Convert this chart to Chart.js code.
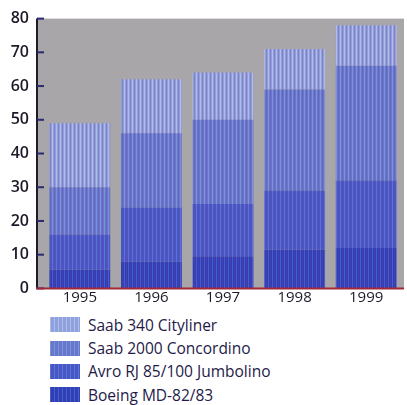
<!DOCTYPE html>
<html>
<head>
    <title>Fleet</title>
    <script src="https://cdn.jsdelivr.net/npm/chart.js@4.4.1/dist/chart.umd.min.js"></script>
    <style>
        body {
            margin: 0;
            padding: 0;
            background-color: #ffffff;
            font-family: "Open Sans", sans-serif;
        }
        #wrap {
            position: relative;
            width: 407px;
            height: 405px;
            overflow: hidden;
        }
        #chartBox {
            position: absolute;
            left: 0;
            top: -6px;
            width: 407px;
            height: 319px;
        }
        #legend {
            position: absolute;
            left: 50px;
            top: 313px;
        }
        .row {
            display: flex;
            align-items: center;
            height: 23.4px;
        }
        .swatch {
            width: 30px;
            height: 15px;
            margin-right: 8px;
        }
        .row span {
            font-size: 15.5px;
            color: #241a48;
        }
    </style>
</head>
<body>
<div id="wrap">
    <div id="chartBox"><canvas id="barChart"></canvas></div>
    <div id="legend"></div>
</div>

<script>
    // values (stack pieces, bottom to top)
    const years = ['1995', '1996', '1997', '1998', '1999'];
    const boeing = [5.5, 8, 9.5, 11.5, 12];
    const avro = [10.5, 16, 15.5, 17.5, 20];
    const saab2000 = [14, 22, 25, 30, 34];
    const saab340 = [19, 16, 14, 12, 12];
    const seriesNames = ['Boeing MD-82/83', 'Avro RJ 85/100 Jumbolino', 'Saab 2000 Concordino', 'Saab 340 Cityliner'];
    const seriesColors = ['#2f40b2', '#4658c4', '#6478cc', '#8fa1dc'];
    const stripeColors = ['#4a5ad0', '#6070d8', '#8090d8', '#b0bce8'];
    const yMax = 80;
    const yStep = 10;

    // vertical stripes like the printed screen
    function stripes(base, light) {
        const c = document.createElement('canvas');
        c.width = 4; c.height = 4;
        const g = c.getContext('2d');
        g.fillStyle = base;
        g.fillRect(0, 0, 4, 4);
        g.fillStyle = light;
        g.fillRect(0, 0, 1, 4);
        g.fillStyle = 'rgba(120,60,160,0.35)';
        g.fillRect(2, 0, 1, 4);
        return g.createPattern(c, 'repeat');
    }

    const allValues = [boeing, avro, saab2000, saab340];
    const datasets = allValues.map(function (vals, i) {
        return {
            label: seriesNames[i],
            data: vals,
            backgroundColor: stripes(seriesColors[i], stripeColors[i]),
            borderWidth: 0,
            barPercentage: 0.85,
            categoryPercentage: 1.0
        };
    });

    // grey plot background, y axis line with inside ticks, red base line
    const frame = {
        id: 'frame',
        beforeDatasetsDraw(chart) {
            const a = chart.chartArea;
            const ctx = chart.ctx;
            const y = chart.scales.y;
            ctx.save();
            ctx.fillStyle = '#a9a6aa';
            ctx.fillRect(a.left - 8, a.top, a.right - a.left + 10, a.bottom - a.top);
            ctx.strokeStyle = '#1e1a2a';
            ctx.lineWidth = 2;
            ctx.beginPath();
            ctx.moveTo(a.left - 7, a.top);
            ctx.lineTo(a.left - 7, a.bottom);
            ctx.stroke();
            ctx.strokeStyle = '#2a2a70';
            y.ticks.forEach(function (t, i) {
                const py = y.getPixelForTick(i);
                ctx.beginPath();
                ctx.moveTo(a.left - 7, py);
                ctx.lineTo(a.left, py);
                ctx.stroke();
            });
            ctx.restore();
        },
        afterDatasetsDraw(chart) {
            const a = chart.chartArea;
            const ctx = chart.ctx;
            ctx.save();
            ctx.strokeStyle = '#a02838';
            ctx.lineWidth = 2;
            ctx.beginPath();
            ctx.moveTo(a.left - 8, a.bottom);
            ctx.lineTo(a.right + 2, a.bottom);
            ctx.stroke();
            ctx.restore();
        }
    };

    const barCtx = document.getElementById('barChart').getContext('2d');
    const barChart = new Chart(barCtx, {
        type: 'bar',
        data: { labels: years, datasets: datasets },
        plugins: [frame],
        options: {
            responsive: true,
            maintainAspectRatio: false,
            animation: false,
            layout: { padding: { top: 0, right: 5, left: 0, bottom: 0 } },
            plugins: {
                legend: { display: false },
                tooltip: { enabled: false }
            },
            scales: {
                x: {
                    stacked: true,
                    grid: { display: false, drawTicks: false },
                    border: { display: false },
                    ticks: {
                        padding: 0,
                        color: '#1e1828',
                        font: { family: 'Open Sans', size: 15 }
                    }
                },
                y: {
                    stacked: true,
                    min: 0,
                    max: yMax,
                    afterFit(scale) { scale.width = 44; },
                    grid: { display: false, drawTicks: false },
                    border: { display: false },
                    ticks: {
                        stepSize: yStep,
                        padding: 15,
                        color: '#1e1828',
                        font: { family: 'Open Sans', size: 16, weight: '600' }
                    }
                }
            }
        }
    });

    // legend, top row = top of the stack
    const legend = document.getElementById('legend');
    for (let i = seriesNames.length - 1; i >= 0; i--) {
        const row = document.createElement('div');
        row.className = 'row';
        const sw = document.createElement('div');
        sw.className = 'swatch';
        sw.style.background = 'repeating-linear-gradient(90deg, ' + stripeColors[i] + ' 0 1px, ' +
            seriesColors[i] + ' 1px 4px)';
        const txt = document.createElement('span');
        txt.textContent = seriesNames[i];
        row.appendChild(sw);
        row.appendChild(txt);
        legend.appendChild(row);
    }
</script>
</body>
</html>
